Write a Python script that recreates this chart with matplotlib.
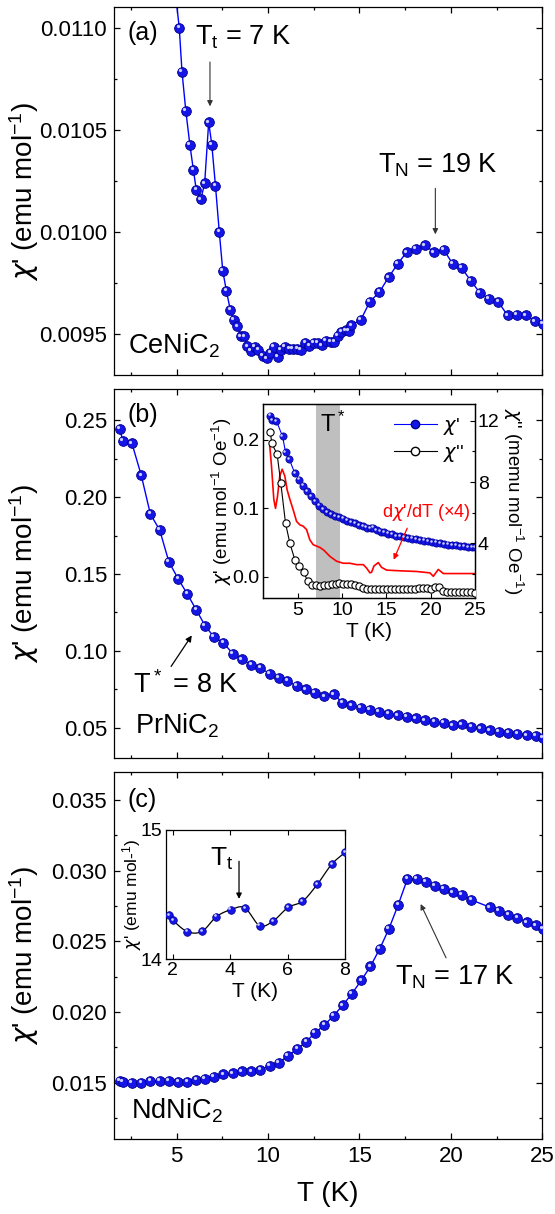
import numpy as np
import matplotlib
matplotlib.use('Agg')
import matplotlib.pyplot as plt
import matplotlib.transforms as mtransforms
from matplotlib.lines import Line2D
from matplotlib.ticker import MultipleLocator, FormatStrFormatter

plt.rcParams['font.family'] = ['Liberation Sans', 'DejaVu Sans']
plt.rcParams['mathtext.fontset'] = 'custom'
plt.rcParams['mathtext.rm'] = 'Liberation Sans'
plt.rcParams['mathtext.it'] = 'DejaVu Sans:italic'
plt.rcParams['mathtext.default'] = 'regular'
plt.rcParams['axes.linewidth'] = 0.9

# (a) CeNiC2
T_a = [4.7, 5.14, 5.29, 5.5, 5.72, 5.91, 6.07, 6.32, 6.53, 6.75, 6.92, 7.12, 7.33, 7.52, 7.72,
       7.93, 8.11, 8.32, 8.51, 8.7, 8.86, 9.06, 9.27, 9.47, 9.7, 9.93, 10.13, 10.32, 10.53,
       10.71, 10.92, 11.16, 11.37, 11.6, 11.8, 12.03, 12.26, 12.51, 12.73, 12.94, 13.17,
       13.43, 13.62, 13.82, 14.01, 14.24, 14.4, 14.55, 15.08, 15.56, 16.09, 16.59, 17.1,
       17.58, 18.09, 18.59, 19.08, 19.6, 20.09, 20.59, 21.1, 21.58, 22.09, 22.59, 23.1,
       23.6, 24.1, 24.59, 25.04]
chi_a = [0.01135, 0.01100, 0.010784, 0.010593, 0.010428, 0.010306, 0.010208, 0.010161,
         0.010239, 0.010538, 0.010428, 0.010228, 0.010000, 0.009811, 0.009712, 0.009621,
         0.009572, 0.009540, 0.009491, 0.009491, 0.009442, 0.009418, 0.009439, 0.009423,
         0.009395, 0.009382, 0.009410, 0.009439, 0.009390, 0.009423, 0.009439, 0.009430,
         0.009430, 0.009430, 0.009423, 0.009460, 0.009444, 0.009460, 0.009460, 0.009447,
         0.009467, 0.009463, 0.009463, 0.009493, 0.009512, 0.009520, 0.009516, 0.009545,
         0.009572, 0.009659, 0.009707, 0.009779, 0.009846, 0.009902, 0.009919, 0.009935,
         0.009902, 0.009915, 0.009846, 0.009824, 0.009761, 0.009704, 0.009675, 0.009659,
         0.009593, 0.009597, 0.009593, 0.009564, 0.009553]

# (b) PrNiC2
T_b = [1.89, 2.05, 2.55, 3.06, 3.56, 4.07, 4.57, 5.08, 5.58, 6.07, 6.55, 7.04, 7.56, 8.07,
       8.57, 9.08, 9.58, 10.09, 10.57, 11.06, 11.56, 12.07, 12.57, 13.08, 13.58, 14.07,
       14.55, 15.08, 15.56, 16.07, 16.57, 17.08, 17.58, 18.09, 18.59, 19.1, 19.6, 20.1,
       20.61, 21.12, 21.62, 22.13, 22.63, 23.14, 23.64, 24.15, 24.63, 25.04]
chi_b = [0.2446, 0.2366, 0.2351, 0.2143, 0.1890, 0.1786, 0.1580, 0.1468, 0.1370, 0.1266,
         0.1164, 0.1089, 0.1052, 0.0980, 0.0944, 0.0909, 0.0887, 0.0851, 0.0822, 0.0803,
         0.0770, 0.0749, 0.0725, 0.0704, 0.0716, 0.0662, 0.0645, 0.0630, 0.0617, 0.0602,
         0.0591, 0.0580, 0.0569, 0.0559, 0.0548, 0.0537, 0.0530, 0.0515, 0.0522, 0.0504,
         0.0494, 0.0483, 0.0472, 0.0465, 0.0461, 0.0450, 0.0446, 0.0435]

# (b) inset
Ti_b1 = [1.88, 2.18, 2.63, 3.31, 3.65, 4.06, 4.7, 5.19, 5.64, 6.09, 6.5, 6.95, 7.41, 7.85,
         8.3, 8.75, 9.2, 9.65, 10.1, 10.55, 11.0, 11.45, 11.9, 12.35, 12.8, 13.25, 13.55,
         13.9, 14.35, 14.8, 15.25, 15.7, 16.15, 16.6, 17.05, 17.5, 17.95, 18.4, 18.85, 19.3,
         19.75, 20.2, 20.65, 21.1, 21.55, 22.0, 22.45, 22.9, 23.35, 23.8, 24.25, 24.7, 25.0]
chi1_in = [0.235, 0.228, 0.227, 0.205, 0.182, 0.172, 0.151, 0.142, 0.133, 0.125, 0.1175,
           0.110, 0.104, 0.099, 0.095, 0.092, 0.089, 0.087, 0.085, 0.082, 0.080, 0.078,
           0.076, 0.074, 0.072, 0.071, 0.072, 0.068, 0.066, 0.065, 0.063, 0.062, 0.060,
           0.059, 0.058, 0.057, 0.056, 0.055, 0.054, 0.053, 0.052, 0.0505, 0.050, 0.049,
           0.048, 0.047, 0.0465, 0.046, 0.045, 0.0445, 0.044, 0.0435, 0.043]
Ti_b2 = [1.95, 2.1, 2.7, 3.12, 3.65, 4.14, 4.7, 5.19, 5.68, 6.13, 6.58, 7.03, 7.48, 7.93,
         8.38, 8.83, 9.28, 9.73, 10.18, 10.63, 11.08, 11.53, 11.98, 12.43, 12.88, 13.33,
         13.78, 14.23, 14.68, 15.13, 15.58, 16.03, 16.48, 16.93, 17.38, 17.83, 18.28, 18.73,
         19.18, 19.63, 20.08, 20.53, 20.98, 21.43, 21.88, 22.33, 22.78, 23.23, 23.68, 24.13,
         24.58, 25.0]
chi2_in = [11.24, 10.52, 9.83, 7.91, 5.30, 4.00, 2.91, 2.48, 2.13, 1.54, 1.28, 1.24, 1.22,
           1.27, 1.25, 1.30, 1.36, 1.40, 1.33, 1.30, 1.30, 1.24, 1.20, 1.10, 1.02, 0.98,
           1.03, 1.00, 1.02, 0.99, 1.01, 1.00, 1.01, 0.98, 1.00, 1.02, 1.01, 1.04, 1.06,
           1.07, 0.99, 1.12, 1.16, 0.88, 0.80, 0.78, 0.80, 0.79, 0.81, 0.80, 0.82, 0.76]
Ti_red = [1.88, 2.07, 2.33, 2.52, 2.74, 3.0, 3.27, 3.57, 3.83, 4.14, 4.51, 4.89, 5.26, 5.64,
          6.02, 6.39, 6.77, 7.14, 7.52, 7.97, 8.65, 9.4, 10.15, 10.9, 11.65, 12.41, 12.78,
          13.16, 13.35, 13.61, 14.1, 14.47, 15.04, 16.54, 18.42, 19.92, 20.3, 20.86, 21.43,
          22.56, 25.0]
dchi_red = [0.190, 0.161, 0.113, 0.100, 0.117, 0.147, 0.157, 0.147, 0.127, 0.113, 0.098,
            0.081, 0.076, 0.074, 0.069, 0.054, 0.047, 0.045, 0.043, 0.039, 0.030, 0.023,
            0.020, 0.020, 0.018, 0.018, 0.013, 0.006, 0.007, 0.016, 0.021, 0.014, 0.010,
            0.009, 0.008, 0.006, 0.001, 0.011, 0.005, 0.005, 0.005]

# (c) NdNiC2
T_c = [1.89, 2.05, 2.55, 3.06, 3.56, 4.07, 4.57, 5.08, 5.58, 6.07, 6.55, 7.04, 7.56, 8.07,
       8.57, 9.08, 9.58, 10.09, 10.59, 11.08, 11.6, 12.09, 12.57, 13.08, 13.58, 14.09,
       14.59, 15.1, 15.6, 16.11, 16.61, 17.12, 17.62, 18.13, 18.63, 19.12, 19.62, 20.1,
       20.61, 21.12, 22.13, 22.63, 23.14, 23.64, 24.15, 24.65, 25.04]
chi_c = [0.01514, 0.01509, 0.01502, 0.01502, 0.01514, 0.01516, 0.01516, 0.01505, 0.01507,
         0.01521, 0.01528, 0.01540, 0.01561, 0.01568, 0.01580, 0.01580, 0.01592, 0.01620,
         0.01643, 0.01690, 0.01740, 0.01791, 0.01854, 0.01908, 0.01974, 0.02049, 0.02131,
         0.02225, 0.02324, 0.02448, 0.02589, 0.02760, 0.02941, 0.02941, 0.02923, 0.02894,
         0.02871, 0.02847, 0.02829, 0.02793, 0.02742, 0.02714, 0.02688, 0.02667, 0.02636,
         0.02613, 0.02589]

# (c) inset
Ti_c = [1.87, 2.01, 2.51, 3.02, 3.52, 4.02, 4.51, 5.03, 5.51, 6.02, 6.52, 7.04, 7.54, 8.0]
chi_in_c = [14.341, 14.300, 14.213, 14.215, 14.328, 14.382, 14.397, 14.259, 14.297, 14.400,
            14.446, 14.579, 14.733, 14.823]

CHI = r'$\mathit{\chi}$'
ylabel = CHI + "' (emu mol$^{-1}$)"
BLUE = '#0000ff'


def balls(ax, x, y, ms, lw=1.0):
    fig = ax.figure
    ax.plot(x, y, '-', color=BLUE, lw=lw, zorder=2)
    ax.plot(x, y, 'o', ms=ms, mfc='#1515e8', mec='#00008c', mew=0.6, zorder=3)
    off = mtransforms.offset_copy(ax.transData, fig=fig, x=-ms * 0.17, y=ms * 0.17, units='points')
    ax.plot(x, y, 'o', ms=ms * 0.33, mfc='#d0d0ff', mec='none', transform=off, zorder=4)


def catmull(x, y, n=20):
    x = np.asarray(x, float)
    y = np.asarray(y, float)
    px = np.r_[2 * x[0] - x[1], x, 2 * x[-1] - x[-2]]
    py = np.r_[2 * y[0] - y[1], y, 2 * y[-1] - y[-2]]
    t = np.linspace(0, 1, n, endpoint=False)
    xs, ys = [], []
    for i in range(1, len(px) - 2):
        for p, out in ((px, xs), (py, ys)):
            p0, p1, p2, p3 = p[i - 1], p[i], p[i + 1], p[i + 2]
            out.extend(0.5 * (2 * p1 + (-p0 + p2) * t + (2 * p0 - 5 * p1 + 4 * p2 - p3) * t ** 2
                              + (-p0 + 3 * p1 - 3 * p2 + p3) * t ** 3))
    xs.append(x[-1])
    ys.append(y[-1])
    return xs, ys


def style(ax, size=16, major=4.3, minor=2.2):
    ax.tick_params(which='both', direction='in', top=True, right=True, labelsize=size, pad=5)
    ax.tick_params(which='major', length=major, width=0.9)
    ax.tick_params(which='minor', length=minor, width=0.9)


fig = plt.figure(figsize=(5.55, 12.14), dpi=100)
L, W = 0.2054, 0.7717
ax_a = fig.add_axes([L, 0.6909, W, 0.3031])
ax_b = fig.add_axes([L, 0.3754, W, 0.3040])
ax_c = fig.add_axes([L, 0.0615, W, 0.3028])

for ax in (ax_a, ax_b, ax_c):
    ax.set_xlim(1.57, 25)
    ax.xaxis.set_major_locator(MultipleLocator(5))
    ax.xaxis.set_minor_locator(MultipleLocator(2.5))
    style(ax)
    ax.set_ylabel(ylabel, fontsize=20)
    ax.yaxis.set_label_coords(-0.17, 0.5)
ax_a.tick_params(labelbottom=False)
ax_b.tick_params(labelbottom=False)

# (a)
balls(ax_a, T_a, chi_a, 7)
ax_a.set_ylim(0.0093, 0.0111)
ax_a.yaxis.set_major_locator(MultipleLocator(0.0005))
ax_a.yaxis.set_minor_locator(MultipleLocator(0.00025))
ax_a.yaxis.set_major_formatter(FormatStrFormatter('%.4f'))
ax_a.text(0.032, 0.911, '(a)', transform=ax_a.transAxes, fontsize=18)
ax_a.text(0.189, 0.898, 'T$_t$ = 7 K', transform=ax_a.transAxes, fontsize=19.5)
ax_a.annotate('', xy=(6.82, 0.010602), xytext=(6.82, 0.010846),
              arrowprops=dict(arrowstyle='-|>', color='#333333', lw=0.8, mutation_scale=8))
ax_a.text(0.616, 0.552, 'T$_N$ = 19 K', transform=ax_a.transAxes, fontsize=19.5)
ax_a.annotate('', xy=(19.15, 0.009976), xytext=(19.15, 0.010228),
              arrowprops=dict(arrowstyle='-|>', color='#333333', lw=0.8, mutation_scale=8))
ax_a.text(0.032, 0.06, 'CeNiC$_2$', transform=ax_a.transAxes, fontsize=19.5)

# (b)
balls(ax_b, T_b, chi_b, 7)
ax_b.set_ylim(0.030, 0.2703)
ax_b.yaxis.set_major_locator(MultipleLocator(0.05))
ax_b.yaxis.set_minor_locator(MultipleLocator(0.025))
ax_b.yaxis.set_major_formatter(FormatStrFormatter('%.2f'))
ax_b.text(0.032, 0.912, '(b)', transform=ax_b.transAxes, fontsize=18)
ax_b.annotate('', xy=(5.91, 0.1115), xytext=(4.61, 0.0883),
              arrowprops=dict(arrowstyle='-|>', color='black', lw=0.9, mutation_scale=9))
ax_b.text(0.044, 0.176, 'T$^*$ = 8 K', transform=ax_b.transAxes, fontsize=19.5)
ax_b.text(0.049, 0.068, 'PrNiC$_2$', transform=ax_b.transAxes, fontsize=19.5)

# (c)
balls(ax_c, T_c, chi_c, 7)
ax_c.set_ylim(0.011, 0.037)
ax_c.yaxis.set_major_locator(MultipleLocator(0.005))
ax_c.yaxis.set_minor_locator(MultipleLocator(0.0025))
ax_c.yaxis.set_major_formatter(FormatStrFormatter('%.3f'))
ax_c.set_xlabel('T (K)', fontsize=20, labelpad=10)
ax_c.text(0.032, 0.905, '(c)', transform=ax_c.transAxes, fontsize=18)
ax_c.annotate('', xy=(18.28, 0.02782), xytext=(19.8, 0.02366),
              arrowprops=dict(arrowstyle='-|>', color='#333333', lw=0.8, mutation_scale=8))
ax_c.text(0.657, 0.42, 'T$_N$ = 17 K', transform=ax_c.transAxes, fontsize=19.5)
ax_c.text(0.04, 0.057, 'NdNiC$_2$', transform=ax_c.transAxes, fontsize=19.5)

# inset (b)
ib = fig.add_axes([0.4745, 0.5072, 0.3814, 0.1600])
ib.axvspan(7.05, 9.75, color='#bfbfbf', lw=0, zorder=0)
ib.plot(Ti_red, dchi_red, '-', color='#ff0000', lw=1.2, zorder=2)
ib.plot(Ti_b1, chi1_in, '-', color=BLUE, lw=0.8, zorder=2)
ib.plot(Ti_b1, chi1_in, 'o', ms=5.2, mfc='#1515e8', mec='#00008c', mew=0.5, zorder=3)
off = mtransforms.offset_copy(ib.transData, fig=fig, x=-0.9, y=0.9, units='points')
ib.plot(Ti_b1, chi1_in, 'o', ms=1.8, mfc='#d0d0ff', mec='none', transform=off, zorder=4)
ib.set_xlim(1.15, 25)
ib.set_ylim(-0.031, 0.252)
ib.xaxis.set_major_locator(MultipleLocator(5))
ib.yaxis.set_major_locator(MultipleLocator(0.1))
ib.yaxis.set_major_formatter(FormatStrFormatter('%.1f'))
ib.tick_params(direction='in', labelsize=14, length=3.5, width=0.8, pad=3, right=False)
ib.set_xlabel('T (K)', fontsize=15, labelpad=2)
ib.set_ylabel(CHI + "' (emu mol$^{-1}$ Oe$^{-1}$)", fontsize=13.5, labelpad=1)
ib.yaxis.set_label_coords(-0.138, 0.5)
ib.text(7.54, 0.2117, 'T$^*$', fontsize=17)
ib.text(14.49, 0.0875, 'd' + CHI + "'/dT (×4)", color='#ff0000', fontsize=13)
ib.annotate('', xy=(15.71, 0.0214), xytext=(17.48, 0.0748),
            arrowprops=dict(arrowstyle='-|>', color='#ff0000', lw=0.9, mutation_scale=8))
ib2 = ib.twinx()
ib2.plot(Ti_b2, chi2_in, '-', color='black', lw=0.8, zorder=2)
ib2.plot(Ti_b2, chi2_in, 'o', ms=5.2, mfc='white', mec='black', mew=0.8, zorder=3)
ib2.set_ylim(0.4, 13.1)
ib2.yaxis.set_major_locator(MultipleLocator(4))
ib2.yaxis.set_minor_locator(MultipleLocator(2))
ib2.tick_params(which='both', direction='in', labelsize=14, width=0.8, pad=2)
ib2.tick_params(which='major', length=3.5)
ib2.tick_params(which='minor', length=2)
ib2.set_ylabel(CHI + "'' (memu mol$^{-1}$ Oe$^{-1}$)", fontsize=13.5, rotation=270)
ib2.yaxis.set_label_coords(1.235, 0.5)
handles = [Line2D([], [], color=BLUE, lw=0.8, marker='o', ms=6, mfc='#1515e8', mec='#00008c'),
           Line2D([], [], color='black', lw=0.8, marker='o', ms=6, mfc='white', mec='black')]
ib2.legend(handles, [CHI + "'", CHI + "''"], loc='upper right', frameon=False, fontsize=14,
           handlelength=2.2, handletextpad=0.3, borderaxespad=0.2, labelspacing=0.3)

# inset (c)
ic = fig.add_axes([0.2982, 0.2098, 0.3234, 0.1069])
xs, ys = catmull(Ti_c, chi_in_c)
ic.plot(xs, ys, '-', color='black', lw=0.9, zorder=2)
ic.plot(Ti_c, chi_in_c, 'o', ms=5.5, mfc='#1515e8', mec='#00008c', mew=0.5, zorder=3)
off = mtransforms.offset_copy(ic.transData, fig=fig, x=-0.9, y=0.9, units='points')
ic.plot(Ti_c, chi_in_c, 'o', ms=1.9, mfc='#d0d0ff', mec='none', transform=off, zorder=4)
ic.set_xlim(1.75, 8)
ic.set_ylim(14, 15)
ic.xaxis.set_major_locator(MultipleLocator(2))
ic.yaxis.set_major_locator(MultipleLocator(1))
ic.yaxis.set_major_formatter(FormatStrFormatter('%d'))
ic.tick_params(direction='in', labelsize=14, length=3.5, width=0.8, pad=2, top=True, right=True)
ic.set_xlabel('T (K)', fontsize=15, labelpad=2)
ic.set_ylabel(CHI + "' (emu mol-$^{1}$)", fontsize=12.5, labelpad=1)
ic.yaxis.set_label_coords(-0.12, 0.5)
ic.text(3.3, 14.72, 'T$_t$', fontsize=19)
ic.annotate('', xy=(4.31, 14.444), xytext=(4.31, 14.777),
            arrowprops=dict(arrowstyle='-|>', color='black', lw=0.9, mutation_scale=8))

fig.savefig('out.png', dpi=100)
